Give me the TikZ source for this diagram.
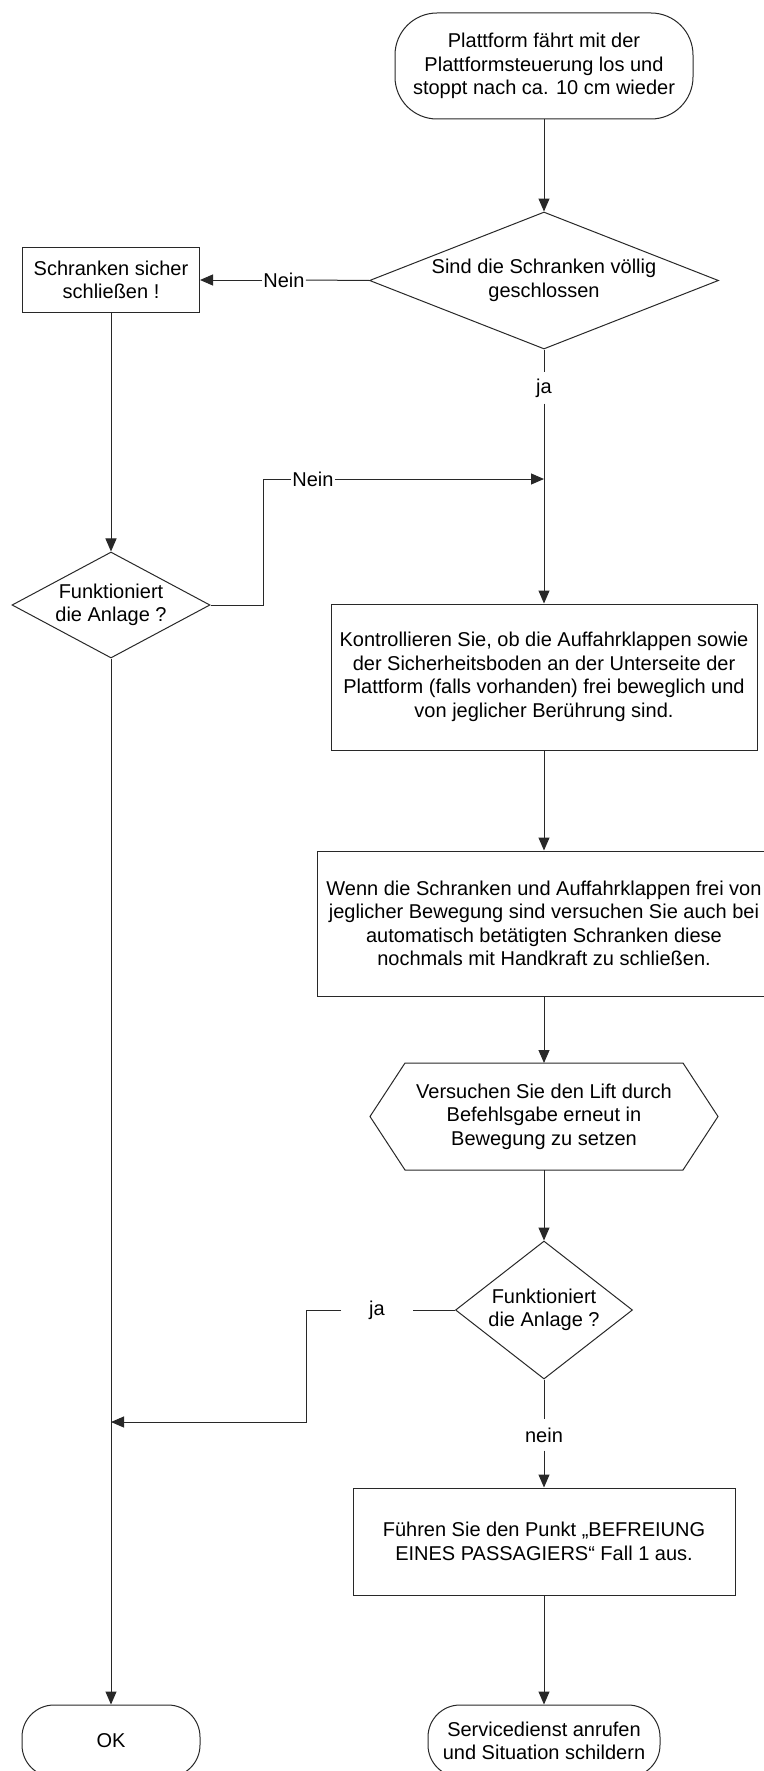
\documentclass[tikz,border=0pt]{standalone}
\usepackage{fontspec}
\setmainfont{Liberation Sans}
\usetikzlibrary{arrows.meta,shapes.geometric}
\definecolor{lineclr}{RGB}{40,40,40}

\begin{document}
\begin{tikzpicture}[x=1pt, y=-1pt, >={Triangle[length=13pt,width=11pt]},
    every node/.style={font=\fontsize{20}{23.5}\selectfont},
    flowline/.style={line width=1pt, draw=lineclr},
    proc/.style={rectangle, draw=lineclr, line width=1pt, inner sep=0pt, align=center},
    term/.style={rectangle, rounded corners=42pt, draw=lineclr, line width=1pt, inner sep=0pt, align=center},
    decision/.style={diamond, draw=lineclr, line width=1pt, inner sep=0pt, align=center},
    hexbox/.style={rectangle, inner sep=0pt, outer sep=0pt, align=center},
    lbl/.style={inner xsep=1pt, inner ysep=6pt}]
  \useasboundingbox[fill=white] (0,0) rectangle (763,1771);
  % Nodes
  \node[term, minimum width=298pt, minimum height=106pt] (start) at (544,66)
    {Plattform fährt mit der\\Plattformsteuerung los und\\stoppt nach ca. 10 cm wieder};
  \node[decision, minimum width=349pt, minimum height=137pt, shape aspect=2.55] (qclosed) at (544,280.5)
    {Sind die Schranken völlig\\geschlossen};
  \node[proc, minimum width=177pt, minimum height=64pt] (shut) at (111,280)
    {Schranken sicher\\schließen !};
  \node[decision, minimum width=198pt, minimum height=106pt, shape aspect=1.87] (qworks) at (111,605)
    {Funktioniert\\die Anlage ?};
  \node[proc, minimum width=426pt, minimum height=146pt] (check) at (544,677)
    {Kontrollieren Sie, ob die Auffahrklappen sowie\\der Sicherheitsboden an der Unterseite der\\Plattform (falls vorhanden) frei beweglich und\\von jeglicher Berührung sind.};
  \node[proc, minimum width=454pt, minimum height=145pt] (manual) at (544,923.5)
    {Wenn die Schranken und Auffahrklappen frei von\\jeglicher Bewegung sind versuchen Sie auch bei\\automatisch betätigten Schranken diese\\nochmals mit Handkraft zu schließen.};
  \node[hexbox, minimum width=348pt, minimum height=107pt] (retry) at (544,1116.5)
    {Versuchen Sie den Lift durch\\Befehlsgabe erneut in\\Bewegung zu setzen};
  \draw[flowline] (retry.west) -- ([xshift=35pt]retry.north west) -- ([xshift=-35pt]retry.north east)
    -- (retry.east) -- ([xshift=-35pt]retry.south east) -- ([xshift=35pt]retry.south west) -- cycle;
  \node[decision, minimum width=177pt, minimum height=138pt, shape aspect=1.28] (qagain) at (544,1310)
    {Funktioniert\\die Anlage ?};
  \node[proc, minimum width=382pt, minimum height=107pt] (rescue) at (544,1541.5)
    {Führen Sie den Punkt „BEFREIUNG\\EINES PASSAGIERS“ Fall 1 aus.};
  \node[term, minimum width=232pt, minimum height=72pt, rounded corners=32pt] (service) at (544,1741)
    {Servicedienst anrufen\\und Situation schildern};
  \node[term, minimum width=178pt, minimum height=72pt, rounded corners=32pt] (ok) at (111,1741) {OK};
  % Labels
  \node[lbl] (nein1) at (284,280) {Nein};
  \node[lbl] (nein2) at (313,479) {Nein};
  \node[lbl] (ja1) at (544,388) {ja};
  \node[lbl, inner xsep=28pt] (ja2) at (377,1310) {ja};
  \node[lbl, inner ysep=8pt] (nein3) at (544,1435) {nein};
  \coordinate (merge1) at (544,479);
  \coordinate (bend1) at (263,605);
  \coordinate (bend2) at (306,1310);
  \coordinate (merge2) at (111,1422);
  % Connectors
  \draw[flowline, ->] (start) -- (qclosed);
  \draw[flowline] (qclosed.west) -- (nein1.east);
  \draw[flowline, ->] (nein1.west) -- (shut.east);
  \draw[flowline, ->] (shut) -- (qworks);
  \draw[flowline] (qworks.east) -- (bend1) |- (nein2.west);
  \draw[flowline, ->] (nein2.east) -- (merge1);
  \draw[flowline] (qclosed.south) -- (ja1.north);
  \draw[flowline, ->] (ja1.south) -- (check.north);
  \draw[flowline, ->] (check) -- (manual);
  \draw[flowline, ->] (manual) -- (retry);
  \draw[flowline, ->] (retry) -- (qagain);
  \draw[flowline] (qagain.west) -- (ja2.east);
  \draw[flowline, ->] (ja2.west) -- (bend2) |- (merge2);
  \draw[flowline] (qagain.south) -- (nein3.north);
  \draw[flowline, ->] (nein3.south) -- (rescue.north);
  \draw[flowline, ->] (rescue) -- (service);
  \draw[flowline, ->] (qworks.south) -- (ok.north);
\end{tikzpicture}
\end{document}
